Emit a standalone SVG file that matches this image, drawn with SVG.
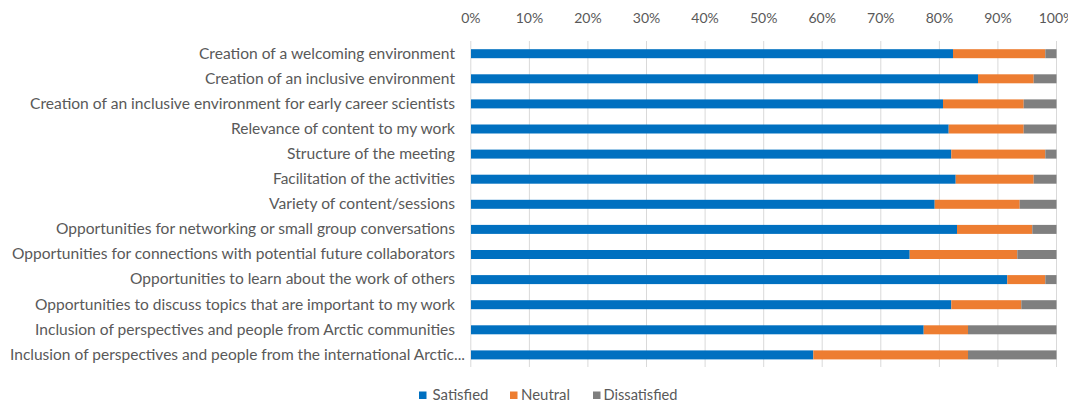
<svg xmlns="http://www.w3.org/2000/svg" width="1068" height="406" viewBox="0 0 1068 406">
<style>
text{font-family:Lato,"Liberation Sans",sans-serif;fill:#595959;font-size:14.5px}
.lab{text-anchor:end}
.ax{text-anchor:middle;font-size:14px}
.grid line{stroke:#d9d9d9;stroke-width:1}
.s{fill:#0070c0}.n{fill:#ed7d31}.d{fill:#7f7f7f}
</style>
<rect width="1068" height="406" fill="#ffffff"/>
<g id="axis">
<text class="ax" x="470.8" y="23">0%</text>
<text class="ax" x="529.4" y="23">10%</text>
<text class="ax" x="587.9" y="23">20%</text>
<text class="ax" x="646.5" y="23">30%</text>
<text class="ax" x="705.1" y="23">40%</text>
<text class="ax" x="763.7" y="23">50%</text>
<text class="ax" x="822.2" y="23">60%</text>
<text class="ax" x="880.8" y="23">70%</text>
<text class="ax" x="939.4" y="23">80%</text>
<text class="ax" x="997.9" y="23">90%</text>
<text class="ax" x="1056.5" y="23">100%</text>
</g>
<g id="gridlines" class="grid">
<line x1="470.8" y1="41" x2="470.8" y2="367"/>
<line x1="529.4" y1="41" x2="529.4" y2="367"/>
<line x1="587.9" y1="41" x2="587.9" y2="367"/>
<line x1="646.5" y1="41" x2="646.5" y2="367"/>
<line x1="705.1" y1="41" x2="705.1" y2="367"/>
<line x1="763.7" y1="41" x2="763.7" y2="367"/>
<line x1="822.2" y1="41" x2="822.2" y2="367"/>
<line x1="880.8" y1="41" x2="880.8" y2="367"/>
<line x1="939.4" y1="41" x2="939.4" y2="367"/>
<line x1="997.9" y1="41" x2="997.9" y2="367"/>
<line x1="1056.5" y1="41" x2="1056.5" y2="367"/>
</g>
<g id="row1"><text class="lab" x="455" y="58.5" textLength="256" lengthAdjust="spacingAndGlyphs">Creation of a welcoming environment</text>
<rect class="s" x="471" y="49.2" width="482" height="9"/><rect class="n" x="953" y="49.2" width="92.3" height="9"/><rect class="d" x="1045.3" y="49.2" width="11.2" height="9"/></g>
<g id="row2"><text class="lab" x="455" y="83.6" textLength="250" lengthAdjust="spacingAndGlyphs">Creation of an inclusive environment</text>
<rect class="s" x="471" y="74.3" width="507" height="9"/><rect class="n" x="978" y="74.3" width="55.7" height="9"/><rect class="d" x="1033.7" y="74.3" width="22.8" height="9"/></g>
<g id="row3"><text class="lab" x="455" y="108.7" textLength="425" lengthAdjust="spacingAndGlyphs">Creation of an inclusive environment for early career scientists</text>
<rect class="s" x="471" y="99.4" width="472" height="9"/><rect class="n" x="943" y="99.4" width="80.7" height="9"/><rect class="d" x="1023.7" y="99.4" width="32.8" height="9"/></g>
<g id="row4"><text class="lab" x="455" y="133.8" textLength="224" lengthAdjust="spacingAndGlyphs">Relevance of content to my work</text>
<rect class="s" x="471" y="124.5" width="477.7" height="9"/><rect class="n" x="948.7" y="124.5" width="75" height="9"/><rect class="d" x="1023.7" y="124.5" width="32.8" height="9"/></g>
<g id="row5"><text class="lab" x="455" y="158.9" textLength="168" lengthAdjust="spacingAndGlyphs">Structure of the meeting</text>
<rect class="s" x="471" y="149.6" width="480.3" height="9"/><rect class="n" x="951.3" y="149.6" width="94" height="9"/><rect class="d" x="1045.3" y="149.6" width="11.2" height="9"/></g>
<g id="row6"><text class="lab" x="455" y="184" textLength="182" lengthAdjust="spacingAndGlyphs">Facilitation of the activities</text>
<rect class="s" x="471" y="174.7" width="484.7" height="9"/><rect class="n" x="955.7" y="174.7" width="78" height="9"/><rect class="d" x="1033.7" y="174.7" width="22.8" height="9"/></g>
<g id="row7"><text class="lab" x="455" y="209.1" textLength="186" lengthAdjust="spacingAndGlyphs">Variety of content/sessions</text>
<rect class="s" x="471" y="199.8" width="463.7" height="9"/><rect class="n" x="934.7" y="199.8" width="85" height="9"/><rect class="d" x="1019.7" y="199.8" width="36.8" height="9"/></g>
<g id="row8"><text class="lab" x="455" y="234.2" textLength="399" lengthAdjust="spacingAndGlyphs">Opportunities for networking or small group conversations</text>
<rect class="s" x="471" y="224.9" width="486" height="9"/><rect class="n" x="957" y="224.9" width="75.3" height="9"/><rect class="d" x="1032.3" y="224.9" width="24.2" height="9"/></g>
<g id="row9"><text class="lab" x="455" y="259.3" textLength="443" lengthAdjust="spacingAndGlyphs">Opportunities for connections with potential future collaborators</text>
<rect class="s" x="471" y="250" width="438.7" height="9"/><rect class="n" x="909.7" y="250" width="107.6" height="9"/><rect class="d" x="1017.3" y="250" width="39.2" height="9"/></g>
<g id="row10"><text class="lab" x="455" y="284.4" textLength="325" lengthAdjust="spacingAndGlyphs">Opportunities to learn about the work of others</text>
<rect class="s" x="471" y="275.1" width="536.3" height="9"/><rect class="n" x="1007.3" y="275.1" width="38" height="9"/><rect class="d" x="1045.3" y="275.1" width="11.2" height="9"/></g>
<g id="row11"><text class="lab" x="455" y="309.5" textLength="420" lengthAdjust="spacingAndGlyphs">Opportunities to discuss topics that are important to my work</text>
<rect class="s" x="471" y="300.2" width="480.3" height="9"/><rect class="n" x="951.3" y="300.2" width="70" height="9"/><rect class="d" x="1021.3" y="300.2" width="35.2" height="9"/></g>
<g id="row12"><text class="lab" x="455" y="334.6" textLength="420" lengthAdjust="spacingAndGlyphs">Inclusion of perspectives and people from Arctic communities</text>
<rect class="s" x="471" y="325.3" width="452.7" height="9"/><rect class="n" x="923.7" y="325.3" width="44.3" height="9"/><rect class="d" x="968" y="325.3" width="88.5" height="9"/></g>
<g id="row13"><text class="lab" x="465" y="359.7" textLength="455" lengthAdjust="spacingAndGlyphs">Inclusion of perspectives and people from the international Arctic...</text>
<rect class="s" x="471" y="350.4" width="342.3" height="9"/><rect class="n" x="813.3" y="350.4" width="154.7" height="9"/><rect class="d" x="968" y="350.4" width="88.5" height="9"/></g>
<g id="legend">
<rect class="s" x="419" y="391.5" width="7.5" height="7.5"/><text x="432.5" y="399.8" textLength="56" lengthAdjust="spacingAndGlyphs">Satisfied</text>
<rect class="n" x="510" y="391.5" width="7.5" height="7.5"/><text x="521" y="399.8" textLength="49" lengthAdjust="spacingAndGlyphs">Neutral</text>
<rect class="d" x="593" y="391.5" width="7.5" height="7.5"/><text x="603.5" y="399.8" textLength="74" lengthAdjust="spacingAndGlyphs">Dissatisfied</text>
</g>
</svg>
